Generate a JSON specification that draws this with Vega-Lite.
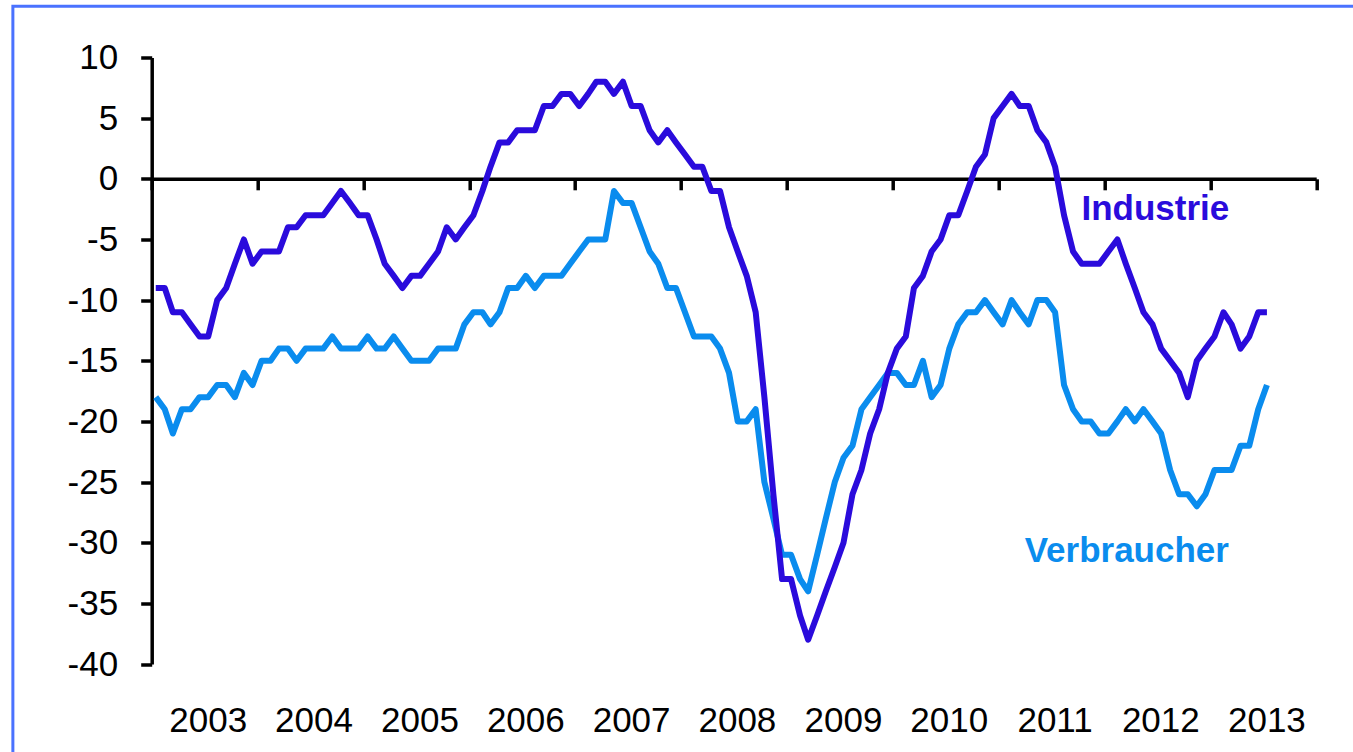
{
  "$schema": "https://vega.github.io/schema/vega-lite/v6.json",
  "width": 1164.5,
  "height": 606.5,
  "autosize": "none",
  "padding": {"left": 151.7, "top": 57.5, "right": 36.8, "bottom": 88},
  "background": "white",
  "config": {
    "view": {"stroke": null},
    "font": "Liberation Sans"
  },
  "datasets": {
    "series": [
      {"m": "2003-01-15", "s": "Verbraucher", "v": -18},
      {"m": "2003-02-15", "s": "Verbraucher", "v": -19},
      {"m": "2003-03-15", "s": "Verbraucher", "v": -21},
      {"m": "2003-04-15", "s": "Verbraucher", "v": -19},
      {"m": "2003-05-15", "s": "Verbraucher", "v": -19},
      {"m": "2003-06-15", "s": "Verbraucher", "v": -18},
      {"m": "2003-07-15", "s": "Verbraucher", "v": -18},
      {"m": "2003-08-15", "s": "Verbraucher", "v": -17},
      {"m": "2003-09-15", "s": "Verbraucher", "v": -17},
      {"m": "2003-10-15", "s": "Verbraucher", "v": -18},
      {"m": "2003-11-15", "s": "Verbraucher", "v": -16},
      {"m": "2003-12-15", "s": "Verbraucher", "v": -17},
      {"m": "2004-01-15", "s": "Verbraucher", "v": -15},
      {"m": "2004-02-15", "s": "Verbraucher", "v": -15},
      {"m": "2004-03-15", "s": "Verbraucher", "v": -14},
      {"m": "2004-04-15", "s": "Verbraucher", "v": -14},
      {"m": "2004-05-15", "s": "Verbraucher", "v": -15},
      {"m": "2004-06-15", "s": "Verbraucher", "v": -14},
      {"m": "2004-07-15", "s": "Verbraucher", "v": -14},
      {"m": "2004-08-15", "s": "Verbraucher", "v": -14},
      {"m": "2004-09-15", "s": "Verbraucher", "v": -13},
      {"m": "2004-10-15", "s": "Verbraucher", "v": -14},
      {"m": "2004-11-15", "s": "Verbraucher", "v": -14},
      {"m": "2004-12-15", "s": "Verbraucher", "v": -14},
      {"m": "2005-01-15", "s": "Verbraucher", "v": -13},
      {"m": "2005-02-15", "s": "Verbraucher", "v": -14},
      {"m": "2005-03-15", "s": "Verbraucher", "v": -14},
      {"m": "2005-04-15", "s": "Verbraucher", "v": -13},
      {"m": "2005-05-15", "s": "Verbraucher", "v": -14},
      {"m": "2005-06-15", "s": "Verbraucher", "v": -15},
      {"m": "2005-07-15", "s": "Verbraucher", "v": -15},
      {"m": "2005-08-15", "s": "Verbraucher", "v": -15},
      {"m": "2005-09-15", "s": "Verbraucher", "v": -14},
      {"m": "2005-10-15", "s": "Verbraucher", "v": -14},
      {"m": "2005-11-15", "s": "Verbraucher", "v": -14},
      {"m": "2005-12-15", "s": "Verbraucher", "v": -12},
      {"m": "2006-01-15", "s": "Verbraucher", "v": -11},
      {"m": "2006-02-15", "s": "Verbraucher", "v": -11},
      {"m": "2006-03-15", "s": "Verbraucher", "v": -12},
      {"m": "2006-04-15", "s": "Verbraucher", "v": -11},
      {"m": "2006-05-15", "s": "Verbraucher", "v": -9},
      {"m": "2006-06-15", "s": "Verbraucher", "v": -9},
      {"m": "2006-07-15", "s": "Verbraucher", "v": -8},
      {"m": "2006-08-15", "s": "Verbraucher", "v": -9},
      {"m": "2006-09-15", "s": "Verbraucher", "v": -8},
      {"m": "2006-10-15", "s": "Verbraucher", "v": -8},
      {"m": "2006-11-15", "s": "Verbraucher", "v": -8},
      {"m": "2006-12-15", "s": "Verbraucher", "v": -7},
      {"m": "2007-01-15", "s": "Verbraucher", "v": -6},
      {"m": "2007-02-15", "s": "Verbraucher", "v": -5},
      {"m": "2007-03-15", "s": "Verbraucher", "v": -5},
      {"m": "2007-04-15", "s": "Verbraucher", "v": -5},
      {"m": "2007-05-15", "s": "Verbraucher", "v": -1},
      {"m": "2007-06-15", "s": "Verbraucher", "v": -2},
      {"m": "2007-07-15", "s": "Verbraucher", "v": -2},
      {"m": "2007-08-15", "s": "Verbraucher", "v": -4},
      {"m": "2007-09-15", "s": "Verbraucher", "v": -6},
      {"m": "2007-10-15", "s": "Verbraucher", "v": -7},
      {"m": "2007-11-15", "s": "Verbraucher", "v": -9},
      {"m": "2007-12-15", "s": "Verbraucher", "v": -9},
      {"m": "2008-01-15", "s": "Verbraucher", "v": -11},
      {"m": "2008-02-15", "s": "Verbraucher", "v": -13},
      {"m": "2008-03-15", "s": "Verbraucher", "v": -13},
      {"m": "2008-04-15", "s": "Verbraucher", "v": -13},
      {"m": "2008-05-15", "s": "Verbraucher", "v": -14},
      {"m": "2008-06-15", "s": "Verbraucher", "v": -16},
      {"m": "2008-07-15", "s": "Verbraucher", "v": -20},
      {"m": "2008-08-15", "s": "Verbraucher", "v": -20},
      {"m": "2008-09-15", "s": "Verbraucher", "v": -19},
      {"m": "2008-10-15", "s": "Verbraucher", "v": -25},
      {"m": "2008-11-15", "s": "Verbraucher", "v": -28},
      {"m": "2008-12-15", "s": "Verbraucher", "v": -31},
      {"m": "2009-01-15", "s": "Verbraucher", "v": -31},
      {"m": "2009-02-15", "s": "Verbraucher", "v": -33},
      {"m": "2009-03-15", "s": "Verbraucher", "v": -34},
      {"m": "2009-04-15", "s": "Verbraucher", "v": -31},
      {"m": "2009-05-15", "s": "Verbraucher", "v": -28},
      {"m": "2009-06-15", "s": "Verbraucher", "v": -25},
      {"m": "2009-07-15", "s": "Verbraucher", "v": -23},
      {"m": "2009-08-15", "s": "Verbraucher", "v": -22},
      {"m": "2009-09-15", "s": "Verbraucher", "v": -19},
      {"m": "2009-10-15", "s": "Verbraucher", "v": -18},
      {"m": "2009-11-15", "s": "Verbraucher", "v": -17},
      {"m": "2009-12-15", "s": "Verbraucher", "v": -16},
      {"m": "2010-01-15", "s": "Verbraucher", "v": -16},
      {"m": "2010-02-15", "s": "Verbraucher", "v": -17},
      {"m": "2010-03-15", "s": "Verbraucher", "v": -17},
      {"m": "2010-04-15", "s": "Verbraucher", "v": -15},
      {"m": "2010-05-15", "s": "Verbraucher", "v": -18},
      {"m": "2010-06-15", "s": "Verbraucher", "v": -17},
      {"m": "2010-07-15", "s": "Verbraucher", "v": -14},
      {"m": "2010-08-15", "s": "Verbraucher", "v": -12},
      {"m": "2010-09-15", "s": "Verbraucher", "v": -11},
      {"m": "2010-10-15", "s": "Verbraucher", "v": -11},
      {"m": "2010-11-15", "s": "Verbraucher", "v": -10},
      {"m": "2010-12-15", "s": "Verbraucher", "v": -11},
      {"m": "2011-01-15", "s": "Verbraucher", "v": -12},
      {"m": "2011-02-15", "s": "Verbraucher", "v": -10},
      {"m": "2011-03-15", "s": "Verbraucher", "v": -11},
      {"m": "2011-04-15", "s": "Verbraucher", "v": -12},
      {"m": "2011-05-15", "s": "Verbraucher", "v": -10},
      {"m": "2011-06-15", "s": "Verbraucher", "v": -10},
      {"m": "2011-07-15", "s": "Verbraucher", "v": -11},
      {"m": "2011-08-15", "s": "Verbraucher", "v": -17},
      {"m": "2011-09-15", "s": "Verbraucher", "v": -19},
      {"m": "2011-10-15", "s": "Verbraucher", "v": -20},
      {"m": "2011-11-15", "s": "Verbraucher", "v": -20},
      {"m": "2011-12-15", "s": "Verbraucher", "v": -21},
      {"m": "2012-01-15", "s": "Verbraucher", "v": -21},
      {"m": "2012-02-15", "s": "Verbraucher", "v": -20},
      {"m": "2012-03-15", "s": "Verbraucher", "v": -19},
      {"m": "2012-04-15", "s": "Verbraucher", "v": -20},
      {"m": "2012-05-15", "s": "Verbraucher", "v": -19},
      {"m": "2012-06-15", "s": "Verbraucher", "v": -20},
      {"m": "2012-07-15", "s": "Verbraucher", "v": -21},
      {"m": "2012-08-15", "s": "Verbraucher", "v": -24},
      {"m": "2012-09-15", "s": "Verbraucher", "v": -26},
      {"m": "2012-10-15", "s": "Verbraucher", "v": -26},
      {"m": "2012-11-15", "s": "Verbraucher", "v": -27},
      {"m": "2012-12-15", "s": "Verbraucher", "v": -26},
      {"m": "2013-01-15", "s": "Verbraucher", "v": -24},
      {"m": "2013-02-15", "s": "Verbraucher", "v": -24},
      {"m": "2013-03-15", "s": "Verbraucher", "v": -24},
      {"m": "2013-04-15", "s": "Verbraucher", "v": -22},
      {"m": "2013-05-15", "s": "Verbraucher", "v": -22},
      {"m": "2013-06-15", "s": "Verbraucher", "v": -19},
      {"m": "2013-07-15", "s": "Verbraucher", "v": -17},
      {"m": "2003-01-15", "s": "Industrie", "v": -9},
      {"m": "2003-02-15", "s": "Industrie", "v": -9},
      {"m": "2003-03-15", "s": "Industrie", "v": -11},
      {"m": "2003-04-15", "s": "Industrie", "v": -11},
      {"m": "2003-05-15", "s": "Industrie", "v": -12},
      {"m": "2003-06-15", "s": "Industrie", "v": -13},
      {"m": "2003-07-15", "s": "Industrie", "v": -13},
      {"m": "2003-08-15", "s": "Industrie", "v": -10},
      {"m": "2003-09-15", "s": "Industrie", "v": -9},
      {"m": "2003-10-15", "s": "Industrie", "v": -7},
      {"m": "2003-11-15", "s": "Industrie", "v": -5},
      {"m": "2003-12-15", "s": "Industrie", "v": -7},
      {"m": "2004-01-15", "s": "Industrie", "v": -6},
      {"m": "2004-02-15", "s": "Industrie", "v": -6},
      {"m": "2004-03-15", "s": "Industrie", "v": -6},
      {"m": "2004-04-15", "s": "Industrie", "v": -4},
      {"m": "2004-05-15", "s": "Industrie", "v": -4},
      {"m": "2004-06-15", "s": "Industrie", "v": -3},
      {"m": "2004-07-15", "s": "Industrie", "v": -3},
      {"m": "2004-08-15", "s": "Industrie", "v": -3},
      {"m": "2004-09-15", "s": "Industrie", "v": -2},
      {"m": "2004-10-15", "s": "Industrie", "v": -1},
      {"m": "2004-11-15", "s": "Industrie", "v": -2},
      {"m": "2004-12-15", "s": "Industrie", "v": -3},
      {"m": "2005-01-15", "s": "Industrie", "v": -3},
      {"m": "2005-02-15", "s": "Industrie", "v": -5},
      {"m": "2005-03-15", "s": "Industrie", "v": -7},
      {"m": "2005-04-15", "s": "Industrie", "v": -8},
      {"m": "2005-05-15", "s": "Industrie", "v": -9},
      {"m": "2005-06-15", "s": "Industrie", "v": -8},
      {"m": "2005-07-15", "s": "Industrie", "v": -8},
      {"m": "2005-08-15", "s": "Industrie", "v": -7},
      {"m": "2005-09-15", "s": "Industrie", "v": -6},
      {"m": "2005-10-15", "s": "Industrie", "v": -4},
      {"m": "2005-11-15", "s": "Industrie", "v": -5},
      {"m": "2005-12-15", "s": "Industrie", "v": -4},
      {"m": "2006-01-15", "s": "Industrie", "v": -3},
      {"m": "2006-02-15", "s": "Industrie", "v": -1},
      {"m": "2006-03-15", "s": "Industrie", "v": 1},
      {"m": "2006-04-15", "s": "Industrie", "v": 3},
      {"m": "2006-05-15", "s": "Industrie", "v": 3},
      {"m": "2006-06-15", "s": "Industrie", "v": 4},
      {"m": "2006-07-15", "s": "Industrie", "v": 4},
      {"m": "2006-08-15", "s": "Industrie", "v": 4},
      {"m": "2006-09-15", "s": "Industrie", "v": 6},
      {"m": "2006-10-15", "s": "Industrie", "v": 6},
      {"m": "2006-11-15", "s": "Industrie", "v": 7},
      {"m": "2006-12-15", "s": "Industrie", "v": 7},
      {"m": "2007-01-15", "s": "Industrie", "v": 6},
      {"m": "2007-02-15", "s": "Industrie", "v": 7},
      {"m": "2007-03-15", "s": "Industrie", "v": 8},
      {"m": "2007-04-15", "s": "Industrie", "v": 8},
      {"m": "2007-05-15", "s": "Industrie", "v": 7},
      {"m": "2007-06-15", "s": "Industrie", "v": 8},
      {"m": "2007-07-15", "s": "Industrie", "v": 6},
      {"m": "2007-08-15", "s": "Industrie", "v": 6},
      {"m": "2007-09-15", "s": "Industrie", "v": 4},
      {"m": "2007-10-15", "s": "Industrie", "v": 3},
      {"m": "2007-11-15", "s": "Industrie", "v": 4},
      {"m": "2007-12-15", "s": "Industrie", "v": 3},
      {"m": "2008-01-15", "s": "Industrie", "v": 2},
      {"m": "2008-02-15", "s": "Industrie", "v": 1},
      {"m": "2008-03-15", "s": "Industrie", "v": 1},
      {"m": "2008-04-15", "s": "Industrie", "v": -1},
      {"m": "2008-05-15", "s": "Industrie", "v": -1},
      {"m": "2008-06-15", "s": "Industrie", "v": -4},
      {"m": "2008-07-15", "s": "Industrie", "v": -6},
      {"m": "2008-08-15", "s": "Industrie", "v": -8},
      {"m": "2008-09-15", "s": "Industrie", "v": -11},
      {"m": "2008-10-15", "s": "Industrie", "v": -18},
      {"m": "2008-11-15", "s": "Industrie", "v": -26},
      {"m": "2008-12-15", "s": "Industrie", "v": -33},
      {"m": "2009-01-15", "s": "Industrie", "v": -33},
      {"m": "2009-02-15", "s": "Industrie", "v": -36},
      {"m": "2009-03-15", "s": "Industrie", "v": -38},
      {"m": "2009-04-15", "s": "Industrie", "v": -36},
      {"m": "2009-05-15", "s": "Industrie", "v": -34},
      {"m": "2009-06-15", "s": "Industrie", "v": -32},
      {"m": "2009-07-15", "s": "Industrie", "v": -30},
      {"m": "2009-08-15", "s": "Industrie", "v": -26},
      {"m": "2009-09-15", "s": "Industrie", "v": -24},
      {"m": "2009-10-15", "s": "Industrie", "v": -21},
      {"m": "2009-11-15", "s": "Industrie", "v": -19},
      {"m": "2009-12-15", "s": "Industrie", "v": -16},
      {"m": "2010-01-15", "s": "Industrie", "v": -14},
      {"m": "2010-02-15", "s": "Industrie", "v": -13},
      {"m": "2010-03-15", "s": "Industrie", "v": -9},
      {"m": "2010-04-15", "s": "Industrie", "v": -8},
      {"m": "2010-05-15", "s": "Industrie", "v": -6},
      {"m": "2010-06-15", "s": "Industrie", "v": -5},
      {"m": "2010-07-15", "s": "Industrie", "v": -3},
      {"m": "2010-08-15", "s": "Industrie", "v": -3},
      {"m": "2010-09-15", "s": "Industrie", "v": -1},
      {"m": "2010-10-15", "s": "Industrie", "v": 1},
      {"m": "2010-11-15", "s": "Industrie", "v": 2},
      {"m": "2010-12-15", "s": "Industrie", "v": 5},
      {"m": "2011-01-15", "s": "Industrie", "v": 6},
      {"m": "2011-02-15", "s": "Industrie", "v": 7},
      {"m": "2011-03-15", "s": "Industrie", "v": 6},
      {"m": "2011-04-15", "s": "Industrie", "v": 6},
      {"m": "2011-05-15", "s": "Industrie", "v": 4},
      {"m": "2011-06-15", "s": "Industrie", "v": 3},
      {"m": "2011-07-15", "s": "Industrie", "v": 1},
      {"m": "2011-08-15", "s": "Industrie", "v": -3},
      {"m": "2011-09-15", "s": "Industrie", "v": -6},
      {"m": "2011-10-15", "s": "Industrie", "v": -7},
      {"m": "2011-11-15", "s": "Industrie", "v": -7},
      {"m": "2011-12-15", "s": "Industrie", "v": -7},
      {"m": "2012-01-15", "s": "Industrie", "v": -6},
      {"m": "2012-02-15", "s": "Industrie", "v": -5},
      {"m": "2012-03-15", "s": "Industrie", "v": -7},
      {"m": "2012-04-15", "s": "Industrie", "v": -9},
      {"m": "2012-05-15", "s": "Industrie", "v": -11},
      {"m": "2012-06-15", "s": "Industrie", "v": -12},
      {"m": "2012-07-15", "s": "Industrie", "v": -14},
      {"m": "2012-08-15", "s": "Industrie", "v": -15},
      {"m": "2012-09-15", "s": "Industrie", "v": -16},
      {"m": "2012-10-15", "s": "Industrie", "v": -18},
      {"m": "2012-11-15", "s": "Industrie", "v": -15},
      {"m": "2012-12-15", "s": "Industrie", "v": -14},
      {"m": "2013-01-15", "s": "Industrie", "v": -13},
      {"m": "2013-02-15", "s": "Industrie", "v": -11},
      {"m": "2013-03-15", "s": "Industrie", "v": -12},
      {"m": "2013-04-15", "s": "Industrie", "v": -14},
      {"m": "2013-05-15", "s": "Industrie", "v": -13},
      {"m": "2013-06-15", "s": "Industrie", "v": -11},
      {"m": "2013-07-15", "s": "Industrie", "v": -11}
    ],
    "labels": [
      {"m": "2011-10-14", "v": -3.4, "label": "Industrie"},
      {"m": "2011-04-01", "v": -31.6, "label": "Verbraucher"}
    ]
  },
  "layer": [
    {
      "data": {"values": [{}]},
      "mark": {"type": "rect", "fill": "transparent", "stroke": "#4A72FF", "strokeWidth": 3},
      "encoding": {
        "x": {"datum": 999993600000, "type": "temporal"},
        "x2": {"datum": 1404172800000},
        "y": {"datum": 14.23, "type": "quantitative"},
        "y2": {"datum": -48}
      }
    },
    {
      "encoding": {
        "x": {
          "field": "m",
          "type": "temporal",
          "scale": {
            "type": "utc",
            "domain": [{"year": 2003, "month": 1, "date": 1, "utc": true}, {"year": 2014, "month": 1, "date": 1, "utc": true}]
          },
          "axis": {
            "orient": "bottom",
            "offset": -485.2,
            "values": [
              {"year": 2003, "utc": true}, {"year": 2004, "utc": true}, {"year": 2005, "utc": true},
              {"year": 2006, "utc": true}, {"year": 2007, "utc": true}, {"year": 2008, "utc": true},
              {"year": 2009, "utc": true}, {"year": 2010, "utc": true}, {"year": 2011, "utc": true},
              {"year": 2012, "utc": true}, {"year": 2013, "utc": true}, {"year": 2014, "utc": true}
            ],
            "format": "%Y",
            "labelExpr": "utcyear(datum.value) >= 2014 ? '' : utcFormat(datum.value, '%Y')",
            "title": null,
            "grid": false,
            "domainColor": "black",
            "domainWidth": 3.5,
            "tickColor": "black",
            "tickWidth": 3.5,
            "tickSize": 11,
            "labelFont": "Liberation Sans",
            "labelFontSize": 35,
            "labelColor": "black",
            "labelOffset": 56,
            "labelPadding": 531,
            "labelBaseline": "middle",
            "labelAlign": "center",
            "labelFlush": false,
            "labelOverlap": false,
            "labelBound": false
          }
        },
        "y": {
          "field": "v",
          "type": "quantitative",
          "scale": {"domain": [-40, 10], "nice": false, "zero": false},
          "axis": {
            "values": [-40, -35, -30, -25, -20, -15, -10, -5, 0, 5, 10],
            "labelExpr": "datum.value < 0 ? '-' + abs(datum.value) : '' + datum.value",
            "title": null,
            "grid": false,
            "domainColor": "black",
            "domainWidth": 3.5,
            "tickColor": "black",
            "tickWidth": 3.5,
            "tickSize": 11,
            "labelFont": "Liberation Sans",
            "labelFontSize": 35,
            "labelColor": "black",
            "labelPadding": 23,
            "labelFlush": false,
            "labelOverlap": false
          }
        }
      },
      "layer": [
        {
          "data": {"name": "series"},
          "transform": [{"filter": "datum.s === 'Verbraucher'"}],
          "mark": {"type": "line", "color": "#0A8CEE", "strokeWidth": 6, "strokeJoin": "round", "strokeCap": "butt"}
        },
        {
          "data": {"name": "series"},
          "transform": [{"filter": "datum.s === 'Industrie'"}],
          "mark": {"type": "line", "color": "#2A0BDC", "strokeWidth": 6, "strokeJoin": "round", "strokeCap": "butt"}
        },
        {
          "data": {"name": "labels"},
          "mark": {"type": "text", "align": "left", "baseline": "alphabetic", "font": "Liberation Sans", "fontSize": 35, "fontWeight": "bold"},
          "encoding": {
            "text": {"field": "label"},
            "color": {
              "field": "label",
              "type": "nominal",
              "scale": {"domain": ["Industrie", "Verbraucher"], "range": ["#2A0BDC", "#0A8CEE"]},
              "legend": null
            }
          }
        }
      ]
    }
  ]
}
